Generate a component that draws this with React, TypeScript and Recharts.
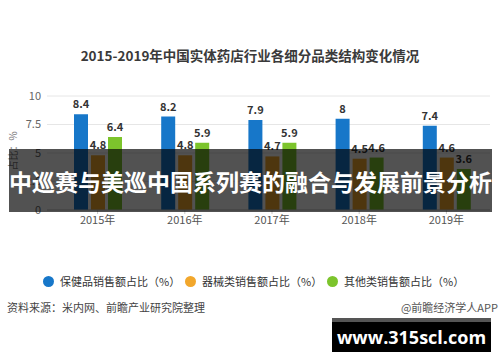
import React from 'react';
import { BarChart, Bar, XAxis, YAxis, CartesianGrid, LabelList, Legend } from 'recharts';

const years = ['2015年', '2016年', '2017年', '2018年', '2019年'];
const healthShare = [8.4, 8.2, 7.9, 8, 7.4];
const deviceShare = [4.8, 4.8, 4.7, 4.5, 4.6];
const otherShare = [6.4, 5.9, 5.9, 4.6, 3.6];
const yTicks = [0, 2.5, 5, 7.5, 10];

const seriesNames = ['保健品销售额占比（%）', '器械类销售额占比（%）', '其他类销售额占比（%）'];
const seriesColors = ['#1777c9', '#f2a72c', '#7cc42c'];

const data = years.map((y, i) => ({
  year: y,
  health: healthShare[i],
  device: deviceShare[i],
  other: otherShare[i],
}));

const FONT = '"Noto Sans CJK SC", "Noto Sans", sans-serif';

const LegendContent = () => (
  <div style={{ position: 'relative', width: 500, height: 16, fontFamily: FONT }}>
    {seriesNames.map((n, i) => (
      <div key={n} style={{ position: 'absolute', left: 43 + i * 142, top: 0, display: 'flex', alignItems: 'center', whiteSpace: 'nowrap' }}>
        <span style={{ display: 'inline-block', width: 11, height: 11, borderRadius: '50%', background: seriesColors[i], marginRight: 6 }} />
        <span style={{ fontSize: 11, color: '#333' }}>{n}</span>
      </div>
    ))}
  </div>
);

const YLabel = (props: any) => {
  const vb = props.viewBox || { x: 0, y: 80, width: 47, height: 160 };
  const x = vb.x + 14;
  const y = vb.y + vb.height / 2 - 2;
  return (
    <text x={x} y={y} transform={`rotate(-90 ${x} ${y})`} textAnchor="middle" dominantBaseline="middle" fontSize={10} fill="#777" fontFamily={FONT}>
      占比：%
    </text>
  );
};

export default function App() {
  return (
    <div style={{ position: 'absolute', left: 0, top: 0, width: 500, height: 362, background: '#fff', overflow: 'hidden', fontFamily: FONT }}>
      <div style={{ position: 'absolute', left: 0, top: 45, width: 500, textAlign: 'center', fontSize: 13.5, fontWeight: 700, color: '#3a3a3a', whiteSpace: 'nowrap', lineHeight: '20px' }}>
        2015-2019年中国实体药店行业各细分品类结构变化情况
      </div>
      <BarChart
        width={500}
        height={362}
        data={data}
        margin={{ top: 80, right: 10, bottom: 122, left: 0 }}
        barSize={14}
        barGap={3}
        style={{ position: 'absolute', left: 0, top: 0 }}
      >
        <CartesianGrid vertical={false} stroke="#e6e6e6" />
        <XAxis
          dataKey="year"
          padding={{ left: 7, right: 0 }}
          tick={{ fontSize: 11, fill: '#555', fontFamily: FONT }}
          tickSize={4}
          axisLine={{ stroke: '#c8c8c8' }}
          tickLine={{ stroke: '#c8c8c8' }}
        />
        <YAxis
          width={47}
          domain={[0, 10]}
          ticks={yTicks}
          axisLine={false}
          tickLine={false}
          tickSize={4}
          tick={{ fontSize: 11, fill: '#666', fontFamily: FONT }}
          label={{ content: YLabel }}
        />
        <Legend verticalAlign="top" content={LegendContent} wrapperStyle={{ position: 'absolute', top: 273, left: 0, width: 500 }} />
        <Bar dataKey="health" name={seriesNames[0]} fill={seriesColors[0]} isAnimationActive={false}>
          <LabelList dataKey="health" position="top" offset={6} style={{ fontSize: 11, fontWeight: 700, fill: '#333', fontFamily: FONT }} />
        </Bar>
        <Bar dataKey="device" name={seriesNames[1]} fill={seriesColors[1]} isAnimationActive={false}>
          <LabelList dataKey="device" position="top" offset={6} style={{ fontSize: 11, fontWeight: 700, fill: '#333', fontFamily: FONT }} />
        </Bar>
        <Bar dataKey="other" name={seriesNames[2]} fill={seriesColors[2]} isAnimationActive={false}>
          <LabelList dataKey="other" position="top" offset={6} style={{ fontSize: 11, fontWeight: 700, fill: '#333', fontFamily: FONT }} />
        </Bar>
      </BarChart>
      <div style={{ position: 'absolute', left: 7, top: 299, fontSize: 11, color: '#444', whiteSpace: 'nowrap', lineHeight: '16px' }}>
        资料来源：米内网、前瞻产业研究院整理
      </div>
      <div style={{ position: 'absolute', right: 2, top: 299, fontSize: 11, color: '#555', whiteSpace: 'nowrap', lineHeight: '16px' }}>
        @前瞻经济学人APP
      </div>
      <div style={{ position: 'absolute', left: 9, top: 149, width: 483, height: 63, background: 'rgba(0,0,0,0.68)', display: 'flex', alignItems: 'center', justifyContent: 'center' }}>
        <span style={{ color: '#fff', fontSize: 23, fontWeight: 700, whiteSpace: 'nowrap', letterSpacing: 0 }}>
          中巡赛与美巡中国系列赛的融合与发展前景分析
        </span>
      </div>
      <div style={{ position: 'absolute', left: 332, top: 318, width: 159, height: 34, background: '#000', borderTop: '4px solid #555', boxSizing: 'border-box', display: 'flex', alignItems: 'center', justifyContent: 'center' }}>
        <span style={{ color: '#fff', fontSize: 18, fontWeight: 700, fontFamily: '"Open Sans", sans-serif', whiteSpace: 'nowrap' }}>www.315scl.com</span>
      </div>
    </div>
  );
}
